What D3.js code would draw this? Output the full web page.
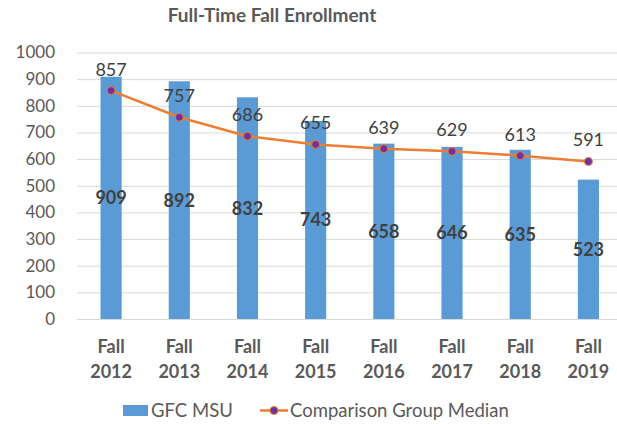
<!DOCTYPE html>
<html>
<head>
<meta charset="utf-8">
<script src="https://cdn.jsdelivr.net/npm/d3@7"></script>
<style>
  html, body { margin: 0; padding: 0; background: #fff; }
  svg { display: block; font-family: Lato, "Open Sans", sans-serif; }
</style>
</head>
<body>
<div id="chart"></div>
<script>
const years = ['2012', '2013', '2014', '2015', '2016', '2017', '2018', '2019']
const gfcMsu = [909, 892, 832, 743, 658, 646, 635, 523]
const groupMedian = [857, 757, 686, 655, 639, 629, 613, 591]
const yTicks = [0, 100, 200, 300, 400, 500, 600, 700, 800, 900, 1000]

const width = 617, height = 424
const blue = '#5B9BD5', orange = '#ED7D31', purple = '#7030A0'

const svg = d3.select('#chart').append('svg')
  .attr('width', width)
  .attr('height', height)

const x = d3.scaleBand()
  .domain(years)
  .range([77, 622.5])
  .paddingInner(0.69)
  .paddingOuter(0.345)

const y = d3.scaleLinear()
  .domain([0, 1000])
  .range([319, 52.5])

// title
svg.append('text')
  .attr('x', 272)
  .attr('y', 22)
  .attr('text-anchor', 'middle')
  .attr('font-size', 19)
  .attr('font-weight', 'bold')
  .attr('fill', '#595959')
  .text('Full-Time Fall Enrollment')

// gridlines + y labels
const yAxis = d3.axisLeft(y)
  .tickValues(yTicks)
  .tickSize(-(width - 77))
  .tickPadding(22)
  .tickFormat(d3.format('d'))

svg.append('g')
  .attr('transform', 'translate(77,0)')
  .call(yAxis)
  .call(g => g.select('.domain').remove())
  .call(g => g.selectAll('.tick line').attr('stroke', '#D9D9D9').attr('stroke-width', 1))
  .call(g => g.selectAll('.tick text')
    .attr('fill', '#595959')
    .attr('font-size', 17)
    .attr('font-family', 'Lato, sans-serif'))

// x labels
const xg = svg.append('g')
years.forEach(yr => {
  const t = xg.append('text')
    .attr('x', x(yr) + x.bandwidth() / 2)
    .attr('y', 353)
    .attr('text-anchor', 'middle')
    .attr('font-size', 18)
    .attr('font-weight', 'bold')
    .attr('fill', '#595959')
  t.append('tspan').attr('x', x(yr) + x.bandwidth() / 2).text('Fall')
  t.append('tspan').attr('x', x(yr) + x.bandwidth() / 2).attr('dy', 25).text(yr)
})

// bars
svg.append('g').selectAll('rect')
  .data(years)
  .join('rect')
  .attr('x', d => x(d))
  .attr('width', x.bandwidth())
  .attr('y', (d, i) => y(gfcMsu[i]))
  .attr('height', (d, i) => y(0) - y(gfcMsu[i]))
  .attr('fill', blue)

// bar labels
svg.append('g').selectAll('text')
  .data(years)
  .join('text')
  .attr('x', d => x(d) + x.bandwidth() / 2)
  .attr('y', (d, i) => (y(gfcMsu[i]) + y(0)) / 2 + 6.5)
  .attr('text-anchor', 'middle')
  .attr('font-size', 18)
  .attr('font-weight', 'bold')
  .attr('fill', '#404040')
  .text((d, i) => gfcMsu[i])

// median line
const cx = d => x(d) + x.bandwidth() / 2
const line = d3.line()
  .x(d => cx(d))
  .y((d, i) => y(groupMedian[i]))

svg.append('path')
  .datum(years)
  .attr('d', line)
  .attr('fill', 'none')
  .attr('stroke', orange)
  .attr('stroke-width', 2.5)
  .attr('stroke-linejoin', 'round')

svg.append('g').selectAll('circle')
  .data(years)
  .join('circle')
  .attr('cx', cx)
  .attr('cy', (d, i) => y(groupMedian[i]))
  .attr('r', 4)
  .attr('fill', purple)
  .attr('stroke', orange)
  .attr('stroke-width', 1)

svg.append('g').selectAll('text')
  .data(years)
  .join('text')
  .attr('x', cx)
  .attr('y', (d, i) => y(groupMedian[i]) - 15)
  .attr('text-anchor', 'middle')
  .attr('font-size', 18)
  .attr('fill', '#404040')
  .text((d, i) => groupMedian[i])

// legend
const lg = svg.append('g')
lg.append('rect')
  .attr('x', 123).attr('y', 405).attr('width', 25).attr('height', 11)
  .attr('fill', blue)
lg.append('text')
  .attr('x', 151).attr('y', 417)
  .attr('font-size', 18.5).attr('fill', '#595959')
  .text('GFC MSU')
lg.append('line')
  .attr('x1', 260).attr('x2', 288).attr('y1', 410.5).attr('y2', 410.5)
  .attr('stroke', orange).attr('stroke-width', 2.5)
lg.append('circle')
  .attr('cx', 274).attr('cy', 410.5).attr('r', 4)
  .attr('fill', purple).attr('stroke', orange).attr('stroke-width', 1)
lg.append('text')
  .attr('x', 290).attr('y', 417)
  .attr('font-size', 18.5).attr('fill', '#595959')
  .text('Comparison Group Median')
</script>
</body>
</html>
